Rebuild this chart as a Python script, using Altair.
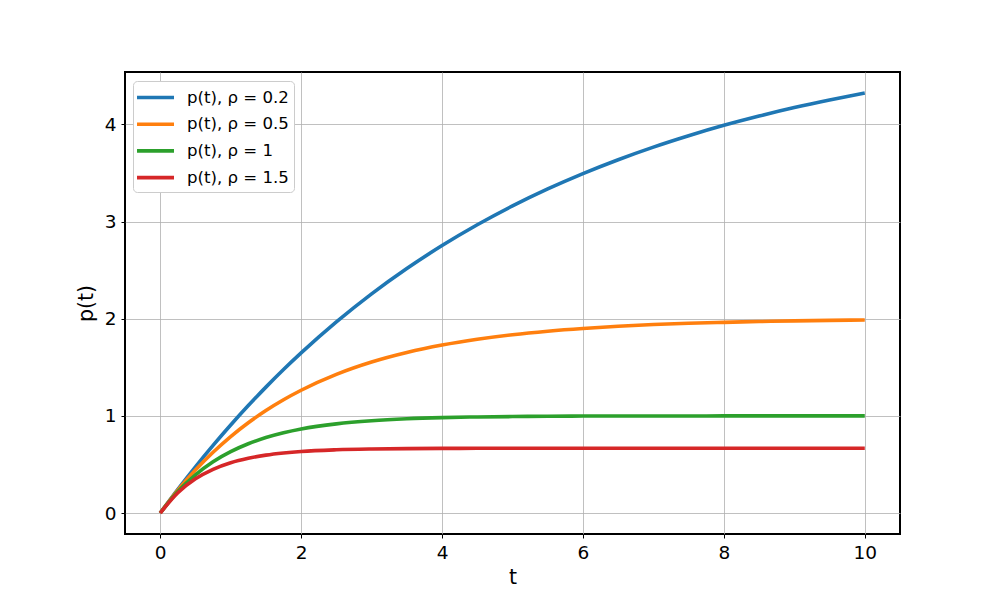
import altair as alt
import pandas as pd

t = [0, 0.25, 0.5, 0.75, 1, 1.25, 1.5, 1.75, 2, 2.5, 3, 3.5, 4, 4.5, 5, 5.5, 6,
     6.5, 7, 7.5, 8, 8.5, 9, 9.5, 10]
p_02 = [0, 0.244, 0.476, 0.696, 0.906, 1.106, 1.296, 1.477, 1.648, 1.967, 2.256,
        2.517, 2.753, 2.967, 3.161, 3.336, 3.494, 3.637, 3.767, 3.884, 3.991,
        4.087, 4.174, 4.252, 4.323]
p_05 = [0, 0.235, 0.442, 0.625, 0.787, 0.929, 1.055, 1.166, 1.264, 1.427, 1.554,
        1.652, 1.729, 1.789, 1.836, 1.872, 1.900, 1.922, 1.940, 1.953, 1.963,
        1.971, 1.978, 1.983, 1.987]
p_10 = [0, 0.221, 0.393, 0.528, 0.632, 0.713, 0.777, 0.826, 0.865, 0.918, 0.950,
        0.970, 0.982, 0.989, 0.993, 0.996, 0.998, 0.998, 0.999, 0.999, 1.0,
        1.0, 1.0, 1.0, 1.0]
p_15 = [0, 0.2085, 0.352, 0.450, 0.518, 0.564, 0.596, 0.618, 0.634, 0.651, 0.659,
        0.663, 0.665, 0.666, 0.667, 0.667, 0.667, 0.667, 0.667, 0.667, 0.667,
        0.667, 0.667, 0.667, 0.667]

labels = ["p(t), ρ = 0.2", "p(t), ρ = 0.5", "p(t), ρ = 1", "p(t), ρ = 1.5"]
colors = ["#1f77b4", "#ff7f0e", "#2ca02c", "#d62728"]
x_ticks = [0, 2, 4, 6, 8, 10]
y_ticks = [0, 1, 2, 3, 4]

rows = []
for lab, vals in zip(labels, [p_02, p_05, p_10, p_15]):
    for i, (tt, v) in enumerate(zip(t, vals)):
        rows.append({"t": tt, "p": v, "series": lab, "idx": i})
df = pd.DataFrame(rows)

font = "DejaVu Sans"

chart = alt.Chart(df).mark_line(strokeWidth=3.6, interpolate="monotone").encode(
    x=alt.X("t:Q", scale=alt.Scale(domain=[-0.5, 10.5], nice=False, zero=False),
            axis=alt.Axis(values=x_ticks, title="t", format="d")),
    y=alt.Y("p:Q", scale=alt.Scale(domain=[-0.216, 4.54], nice=False, zero=False),
            axis=alt.Axis(values=y_ticks, title="p(t)", format="d")),
    color=alt.Color("series:N",
                    scale=alt.Scale(domain=labels, range=colors),
                    legend=alt.Legend(
                        title=None, orient="none", legendX=8, legendY=9,
                        symbolType="M-1.35,0H2.65", symbolSize=342, symbolStrokeWidth=3.6,
                        labelFontSize=16.6, labelFont=font, labelColor="black",
                        labelOffset=26, rowPadding=5.7,
                        fillColor="white", strokeColor="#cccccc", cornerRadius=4,
                        padding=5, symbolOffset=0)),
    order="idx:Q",
).properties(
    width=775, height=462,
    autosize=alt.AutoSizeParams(type="none"),
    padding={"left": 117, "top": 64, "right": 92, "bottom": 58},
).configure_view(
    stroke="black", strokeWidth=2
).configure_axis(
    grid=True, gridColor="#b0b0b0", gridWidth=0.8,
    domain=False, tickColor="black", tickSize=4, tickWidth=1,
    labelFont=font, labelFontSize=18.5, labelColor="black", labelPadding=5,
    titleFont=font, titleFontSize=20.5, titleFontWeight="normal", titleColor="black",
).configure_axisX(
    titlePadding=6
).configure_axisY(
    titlePadding=8
)

chart.save("out.html", embed_options={"renderer": "svg", "actions": False})
